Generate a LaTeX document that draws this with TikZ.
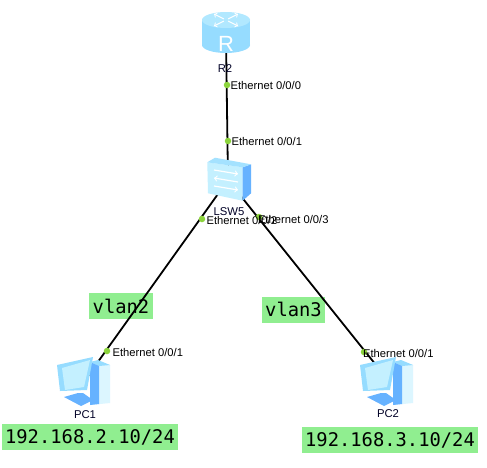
\documentclass[tikz,border=0pt]{standalone}
\usepackage{fontspec}
\setmainfont{Liberation Sans}
\newfontfamily\labelmono{DejaVu Sans Mono}
\usetikzlibrary{positioning}
\definecolor{NoteGreen}{HTML}{90EE90}
\definecolor{PortGreen}{HTML}{8CD43C}
\definecolor{IconSky}{HTML}{C4F0FF}
\definecolor{IconMid}{HTML}{96DCFF}
\definecolor{IconBlue}{HTML}{66B2FF}
\tikzset{
	notebox/.style={fill=NoteGreen, inner sep=0pt, align=center, minimum height=26pt,
		font=\labelmono\fontsize{18.8}{20}\selectfont},
	devlabel/.style={inner sep=0pt, font=\fontsize{11.3}{13}\selectfont, text=black!85!blue},
	portdot/.style={circle, fill=PortGreen, minimum size=6.5pt, inner sep=0pt},
	portlabel/.style={inner sep=0pt, font=\fontsize{11.2}{13}\selectfont},
	link/.style={line width=1.8pt, black},
	routericon/.pic={
		\fill[IconMid] (0,7) ellipse[x radius=24, y radius=8];
		\fill[IconMid] (-24,-18) rectangle (24,7);
		\fill[IconSky!60!IconMid] (0,-18) ellipse[x radius=24, y radius=8];
		\foreach \ang in {45,135,225,315}
			\draw[white, line width=1pt, ->, shift={(0,-18)}, yscale=0.5, rotate=\ang] (3,0) -- (17,0);
		\node[white, inner sep=0pt, font=\fontsize{22}{22}\selectfont] at (0,6) {R};
	},
	switchicon/.pic={
		\fill[IconSky] (-20.7,-17.7) -- (14.7,-12.7) -- (14.7,20.7) -- (-20,13.3) -- cycle;
		\fill[IconBlue] (14.7,-12.7) -- (23,-15.7) -- (23,13.3) -- (14.7,20.7) -- cycle;
		\fill[IconMid!70!IconSky] (-20.7,-17.7) -- (-13,-22.3) -- (23,-15.7) -- (14.7,-12.7) -- cycle;
		\draw[white, line width=1.2pt, ->] (-14,-10) -- (10,-6);
		\draw[white, line width=1.2pt, <-] (-14,-2) -- (10,2);
		\draw[white, line width=1.2pt, ->] (-14,6) -- (10,10);
	},
	pcicon/.pic={
		\fill[IconSky!60!white] (5,-18) -- (25,-15) -- (25,23) -- (5,25) -- cycle;
		\fill[IconMid] (5,-18) -- (13,-20) -- (25,-15) -- (14,-14) -- cycle;
		\fill[IconBlue] (5,-18) -- (14,-14) -- (14,24) -- (5,25) -- cycle;
		\fill[IconBlue] (-21,17) -- (-7,13) -- (-2,13) -- (8,20) -- (-4,26) -- cycle;
		\fill[IconMid] (-28,-15) -- (8,-23) -- (2,10) -- (-25,11) -- cycle;
		\fill[IconSky] (-23,-12) -- (5,-20) -- (-1,7) -- (-20,10) -- cycle;
	}
}
\begin{document}
\begin{tikzpicture}[x=1pt,y=-1pt]
	\useasboundingbox (0,0) rectangle (487,467);
	\fill[white] (0,0) rectangle (487,467);
	% notes go under the links
	\node[notebox, minimum width=64pt] (vlan2) at (121,306) {vlan2};
	\node[notebox, minimum width=63pt] (vlan3) at (293.5,309.5) {vlan3};
	\node[notebox, minimum width=176pt] (ip1) at (90,437) {192.168.2.10/24};
	\node[notebox, minimum width=176pt] (ip2) at (390,440) {192.168.3.10/24};

	\coordinate (r2) at (226,38);
	\coordinate (lsw5) at (228,180);
	\coordinate (pc1) at (85,380);
	\coordinate (pc2) at (388,380);
	\draw[link] (r2) -- (lsw5);
	\draw[link] (lsw5) -- (pc1);
	\draw[link] (lsw5) -- (pc2);

	\pic at (r2) {routericon};
	\pic at (lsw5) {switchicon};
	\pic at (pc1) {pcicon};
	\pic at (pc2) {pcicon};

	\node[devlabel] (r2name) at (225,69) {R2};
	\node[devlabel] (lsw5name) at (229,212) {LSW5};
	\node[devlabel] (pc1name) at (85,415) {PC1};
	\node[devlabel] (pc2name) at (388,414) {PC2};

	\node[portdot] (p1) at (227,85) {};
	\node[portdot] (p2) at (228,141) {};
	\node[portdot] (p3) at (202,219) {};
	\node[portdot] (p4) at (259,217) {};
	\node[portdot] (p5) at (107,351) {};
	\node[portdot] (p6) at (364,352) {};
	\node[portlabel, right=0pt of p1] {Ethernet 0/0/0};
	\node[portlabel, right=0pt of p2] {Ethernet 0/0/1};
	\node[portlabel, right=1pt of p3, yshift=-1pt] {Ethernet 0/0/2};
	\node[portlabel, right=-4.5pt of p4, yshift=-2pt] {Ethernet 0/0/3};
	\node[portlabel, right=2pt of p5, yshift=-1pt] {Ethernet 0/0/1};
	\node[portlabel, right=-4.5pt of p6, yshift=-1pt] {Ethernet 0/0/1};
\end{tikzpicture}
\end{document}
